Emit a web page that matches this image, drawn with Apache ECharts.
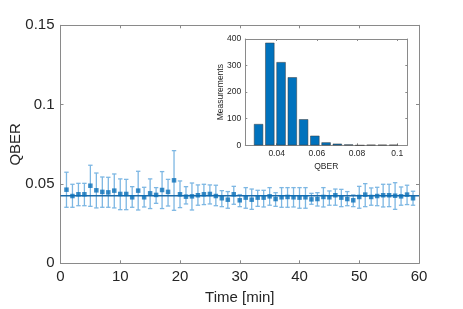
<!DOCTYPE html>
<html><head><meta charset="utf-8">
<script src="https://cdn.jsdelivr.net/npm/echarts@6/dist/echarts.min.js"></script>
<style>html,body{margin:0;padding:0;background:#fff}#c{width:463px;height:309px}</style>
</head><body><div id="c"></div>
<script>
// Main chart data (time in minutes)
const timeMin = [1,2,3,4,5,6,7,8,9,10,11,12,13,14,15,16,17,18,19,20,21,22,23,24,25,26,27,28,29,30,31,32,33,34,35,36,37,38,39,40,41,42,43,44,45,46,47,48,49,50,51,52,53,54,55,56,57,58,59];
const qberMean = [0.0464,0.0424,0.0435,0.0435,0.0489,0.0460,0.0450,0.0447,0.0458,0.0437,0.0437,0.0416,0.0458,0.0416,0.0441,0.0431,0.0462,0.0450,0.0523,0.0435,0.0420,0.0422,0.0429,0.0435,0.0437,0.0424,0.0410,0.0401,0.0435,0.0397,0.0414,0.0401,0.0414,0.0414,0.0422,0.0405,0.0416,0.0418,0.0416,0.0414,0.0416,0.0403,0.0405,0.0418,0.0416,0.0429,0.0414,0.0405,0.0397,0.0418,0.0433,0.0418,0.0424,0.0429,0.0429,0.0426,0.0422,0.0433,0.0410];
const qberHigh = [0.0574,0.0498,0.0504,0.0504,0.0618,0.0569,0.0544,0.0542,0.0563,0.0532,0.0529,0.0483,0.0580,0.0479,0.0532,0.0477,0.0578,0.0529,0.0710,0.0519,0.0483,0.0506,0.0494,0.0498,0.0494,0.0492,0.0458,0.0452,0.0485,0.0433,0.0477,0.0468,0.0460,0.0460,0.0477,0.0445,0.0477,0.0477,0.0477,0.0477,0.0477,0.0441,0.0445,0.0477,0.0456,0.0468,0.0466,0.0452,0.0431,0.0485,0.0502,0.0475,0.0479,0.0498,0.0498,0.0508,0.0481,0.0492,0.0454];
const qberLow = [0.0353,0.0353,0.0363,0.0363,0.0359,0.0349,0.0353,0.0353,0.0349,0.0338,0.0338,0.0353,0.0336,0.0355,0.0345,0.0378,0.0345,0.0361,0.0334,0.0351,0.0374,0.0336,0.0366,0.0370,0.0374,0.0363,0.0357,0.0347,0.0372,0.0357,0.0347,0.0340,0.0359,0.0355,0.0366,0.0359,0.0353,0.0353,0.0355,0.0347,0.0347,0.0372,0.0361,0.0355,0.0366,0.0366,0.0357,0.0363,0.0357,0.0347,0.0357,0.0366,0.0363,0.0355,0.0357,0.0340,0.0366,0.0370,0.0366];
const overallMean = 0.0426;
const xTicks = [0,10,20,30,40,50,60];
const yTicks = [0,0.05,0.1,0.15];

// Inset histogram data
const binCenters = [0.031,0.0366,0.0422,0.0478,0.0534,0.059,0.0646,0.0702,0.0758,0.0814,0.087,0.0926,0.0982];
const binCounts = [80,386,313,256,98,36,11,6,3,0,2,2,2];
const insetXTicks = [0.04,0.06,0.08,0.1];
const insetYTicks = [0,100,200,300,400];

const FONT = 'Liberation Sans';
const TXT = '#262626';
const AX = '#8a8a8a';
const chart = echarts.init(document.getElementById('c'), null, {renderer:'canvas'});

function boxAxis(extra){
  return Object.assign({
    axisLine:{show:true, onZero:false, lineStyle:{color:AX, width:1}},
    axisTick:{show:true, inside:true, length:3, lineStyle:{color:AX}},
    splitLine:{show:false},
    nameMoveOverlap:false
  }, extra);
}

const errData = timeMin.map((t,i)=>[t, qberLow[i], qberHigh[i]]);
const ptData = timeMin.map((t,i)=>[t, qberMean[i]]);
const barData = binCenters.map((c,i)=>[c, binCounts[i]]);
const meanLineData = [[xTicks[0], overallMean], [xTicks[xTicks.length-1], overallMean]];

chart.setOption({
  animation:false,
  backgroundColor:'#fff',
  grid:[
    {left:60.5, top:25.3, width:358.5, height:238, containLabel:false, outerBoundsMode:'none'},
    {left:245.3, top:39, width:162, height:106.3, containLabel:false, outerBoundsMode:'none', show:true, backgroundColor:'#fff', borderWidth:0, z:5}
  ],
  xAxis:[
    boxAxis({type:'value', gridIndex:0, min:0, max:60, interval:10, position:'bottom',
      axisLabel:{fontFamily:FONT, fontSize:15, color:TXT, margin:6},
      name:'Time [min]', nameLocation:'middle', nameGap:27,
      nameTextStyle:{fontFamily:FONT, fontSize:15, color:TXT}}),
    boxAxis({type:'value', gridIndex:0, min:0, max:60, interval:10, position:'top', axisLabel:{show:false}}),
    boxAxis({type:'value', gridIndex:1, min:0.0244, max:0.105, position:'bottom', z:6,
      axisTick:{show:true, inside:true, length:2, customValues:insetXTicks, lineStyle:{color:AX}},
      axisLabel:{fontFamily:FONT, fontSize:8.5, color:TXT, margin:4, customValues:insetXTicks},
      name:'QBER', nameLocation:'middle', nameGap:17,
      nameTextStyle:{fontFamily:FONT, fontSize:8.5, color:TXT}}),
    boxAxis({type:'value', gridIndex:1, min:0.0244, max:0.105, position:'top', z:6,
      axisTick:{show:true, inside:true, length:2, customValues:insetXTicks, lineStyle:{color:AX}},
      axisLabel:{show:false}})
  ],
  yAxis:[
    boxAxis({type:'value', gridIndex:0, min:0, max:0.15, interval:0.05, position:'left',
      axisLabel:{fontFamily:FONT, fontSize:15, color:TXT, margin:6},
      name:'QBER', nameLocation:'middle', nameGap:37,
      nameTextStyle:{fontFamily:FONT, fontSize:15, color:TXT}}),
    boxAxis({type:'value', gridIndex:0, min:0, max:0.15, interval:0.05, position:'right', axisLabel:{show:false}}),
    boxAxis({type:'value', gridIndex:1, min:0, max:400, interval:100, position:'left', z:6,
      axisTick:{show:true, inside:true, length:2, lineStyle:{color:AX}},
      axisLabel:{fontFamily:FONT, fontSize:8.5, color:TXT, margin:4},
      name:'Measurements', nameLocation:'middle', nameGap:20,
      nameTextStyle:{fontFamily:FONT, fontSize:8.5, color:TXT}}),
    boxAxis({type:'value', gridIndex:1, min:0, max:400, interval:100, position:'right', z:6,
      axisTick:{show:true, inside:true, length:2, lineStyle:{color:AX}},
      axisLabel:{show:false}})
  ],
  series:[
    {
      type:'custom', xAxisIndex:0, yAxisIndex:0, data:errData, z:2,
      renderItem:function(params, api){
        const x = api.value(0);
        const lo = api.coord([x, api.value(1)]);
        const hi = api.coord([x, api.value(2)]);
        const cw = 2.2;
        const st = {stroke:'#7db7e3', lineWidth:1.3};
        return {type:'group', children:[
          {type:'line', shape:{x1:lo[0], y1:lo[1], x2:hi[0], y2:hi[1]}, style:st},
          {type:'line', shape:{x1:lo[0]-cw, y1:lo[1], x2:lo[0]+cw, y2:lo[1]}, style:st},
          {type:'line', shape:{x1:hi[0]-cw, y1:hi[1], x2:hi[0]+cw, y2:hi[1]}, style:st}
        ]};
      }
    },
    {
      type:'line', xAxisIndex:0, yAxisIndex:0, data:meanLineData, z:3,
      symbol:'none', silent:true, lineStyle:{color:'#1c6aa8', width:1.4}
    },
    {
      type:'scatter', xAxisIndex:0, yAxisIndex:0, data:ptData, z:4,
      symbol:'rect', symbolSize:4.5, itemStyle:{color:'#0a6fb8'}
    },
    {
      type:'bar', xAxisIndex:2, yAxisIndex:2, data:barData, z:7,
      barWidth:9.2, itemStyle:{color:'#0072BD', borderColor:'#3a3a3a', borderWidth:0.5}
    }
  ]
});
</script>
</body></html>
